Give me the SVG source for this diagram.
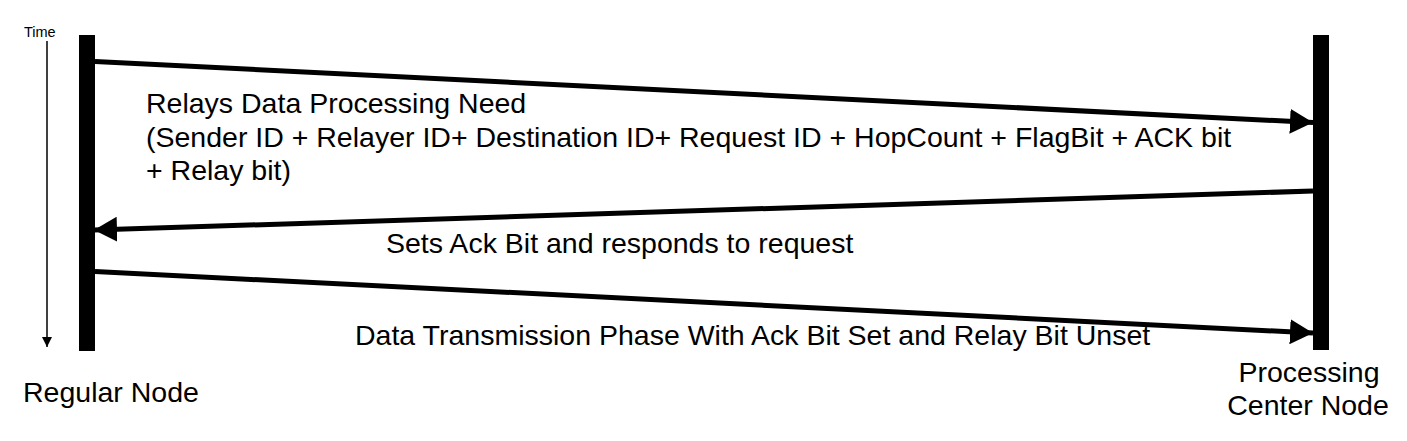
<svg xmlns="http://www.w3.org/2000/svg" width="1407" height="441" viewBox="0 0 1407 441">
  <style>
    .t { font-family: "Liberation Sans", Arial, Helvetica, sans-serif; font-size: 28.5px; fill: #000; }
    .small { font-family: "Liberation Sans", Arial, Helvetica, sans-serif; font-size: 14.5px; fill: #000; }
    .msg { stroke: #000; stroke-width: 5; fill: none; marker-end: url(#arrow); }
    .bar { fill: #000; }
  </style>
  <defs>
    <marker id="arrow" viewBox="0 0 23 25" refX="23" refY="12.5" markerWidth="23" markerHeight="25" markerUnits="userSpaceOnUse" orient="auto">
      <path d="M0,0 L23,12.5 L0,25 z" fill="#000"/>
    </marker>
    <marker id="tarrow" viewBox="0 0 10 10" refX="10" refY="5" markerWidth="10" markerHeight="10" markerUnits="userSpaceOnUse" orient="auto">
      <path d="M0,0 L10,5 L0,10 z" fill="#000"/>
    </marker>
  </defs>
  <rect width="1407" height="441" fill="#fff"/>

  <g id="time-axis">
    <text class="small" x="24" y="37">Time</text>
    <line x1="47" y1="41" x2="47" y2="347" stroke="#000" stroke-width="1.5" marker-end="url(#tarrow)"/>
  </g>

  <g id="regular-node">
    <rect class="bar" x="79" y="35" width="16" height="316"/>
    <text class="t" x="23" y="402">Regular Node</text>
  </g>

  <g id="processing-center-node">
    <rect class="bar" x="1313" y="35" width="16" height="315"/>
    <text class="t" x="1309" y="382" text-anchor="middle">Processing</text>
    <text class="t" x="1308" y="415" text-anchor="middle">Center Node</text>
  </g>

  <g id="connectors">
    <line class="msg" x1="95" y1="61.5" x2="1313" y2="122.5"/>
    <line class="msg" x1="1313" y1="191" x2="94" y2="230"/>
    <line class="msg" x1="95" y1="271.5" x2="1313" y2="333"/>
  </g>

  <g id="labels">
    <text class="t" x="146" y="112.5">Relays Data Processing Need</text>
    <text class="t" x="146" y="146.5">(Sender ID + Relayer ID+ Destination ID+ Request ID + HopCount + FlagBit + ACK bit</text>
    <text class="t" x="146" y="179.5">+ Relay bit)</text>
    <text class="t" x="386" y="253">Sets Ack Bit and responds to request</text>
    <text class="t" x="355" y="345">Data Transmission Phase With Ack Bit Set and Relay Bit Unset</text>
  </g>
</svg>
